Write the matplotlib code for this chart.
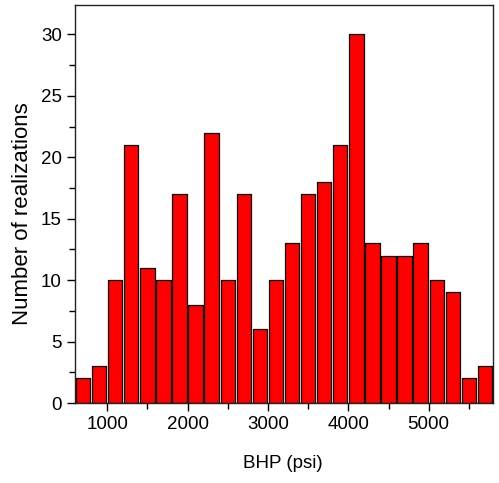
import matplotlib
matplotlib.use("Agg")
import matplotlib.pyplot as plt
import numpy as np

plt.rcParams['font.family'] = ['Liberation Sans', 'DejaVu Sans']

bin_centers = [700, 900, 1100, 1300, 1500, 1700, 1900, 2100, 2300, 2500,
               2700, 2900, 3100, 3300, 3500, 3700, 3900, 4100, 4300, 4500,
               4700, 4900, 5100, 5300, 5500, 5700]
counts = [2, 3, 10, 21, 11, 10, 17, 8, 22, 10,
          17, 6, 10, 13, 17, 18, 21, 30, 13, 12,
          12, 13, 10, 9, 2, 3]
xticks = [1000, 2000, 3000, 4000, 5000]
yticks = [0, 5, 10, 15, 20, 25, 30]

W, H = 499, 483
fig = plt.figure(figsize=(W/100, H/100), dpi=100)
ax = fig.add_axes([75/W, 1-403/H, (493-75)/W, (403-5)/H])

ax.bar(bin_centers, counts, width=178, color='#FF0000', edgecolor='black', linewidth=0.9)

ax.set_xlim(600, 5800)
ax.set_ylim(0, 32.4)
ax.set_xticks(xticks)
ax.set_yticks(yticks)
ax.set_xticks(np.arange(1500, 5800, 1000), minor=True)
ax.set_yticks(np.arange(2.5, 32.4, 5), minor=True)
ax.tick_params(axis='both', which='major', direction='out', length=6, width=1, labelsize=13.5)
ax.tick_params(axis='both', which='minor', direction='out', length=4, width=1)
for s in ax.spines.values():
    s.set_linewidth(1)
    s.set_color('#222222')

fig.text(283/W, 1-463/H, 'BHP (psi)', fontsize=13.5, ha='center', va='center')
fig.text(22.5/W, 1-213.5/H, 'Number of realizations', fontsize=16, ha='center', va='center',
         rotation=90)

fig.savefig('out.png', dpi=100)
